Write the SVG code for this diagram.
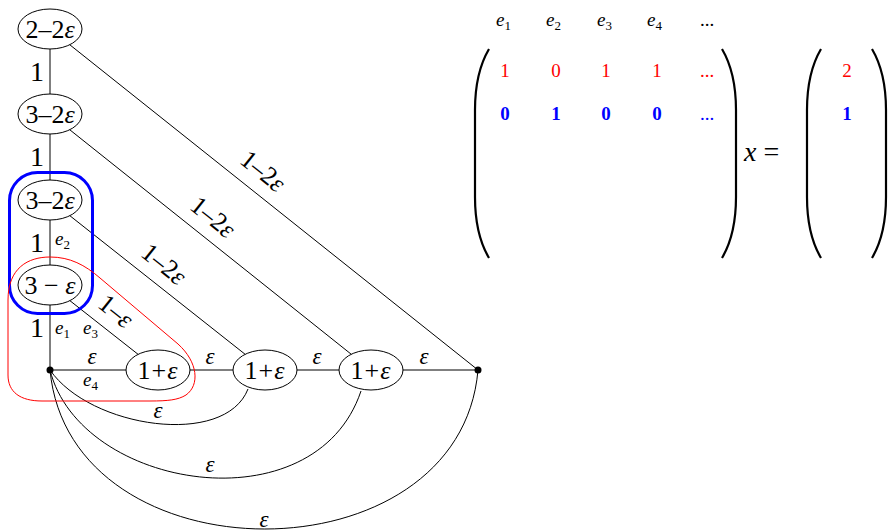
<svg xmlns="http://www.w3.org/2000/svg" width="889" height="531" viewBox="0 0 889 531">
<style>
text{font-family:"Liberation Serif","DejaVu Serif",serif;fill:#000}
.e{stroke:#000;stroke-width:1;fill:none}
.n{fill:#fff;stroke:#000;stroke-width:1}
.nl{font-size:26px;text-anchor:middle;dominant-baseline:central}
.one{font-size:28px;text-anchor:middle}
.eps{font-size:23px;font-style:italic;text-anchor:middle}
.el{font-size:19px;font-style:italic}
.sub{font-size:13px;font-style:normal}
.dl{font-size:26px;text-anchor:middle;dominant-baseline:central}
.i{font-style:italic}
.par{fill:none;stroke:#000;stroke-width:2.2}
.m{font-size:19px;text-anchor:middle}
.red{fill:#ff0000}
.blue{fill:#0000ff;font-weight:bold}
</style>
<g id="connectors">
  <line class="e" x1="50" y1="29" x2="50" y2="370"/>
  <line class="e" x1="50" y1="370" x2="478" y2="370"/>
  <line class="e" x1="50" y1="29" x2="478" y2="370"/>
  <line class="e" x1="50" y1="114" x2="371" y2="370"/>
  <line class="e" x1="50" y1="200" x2="265" y2="370"/>
  <line class="e" x1="50" y1="285" x2="158" y2="370"/>
  <path class="e" d="M50,370 C90,428 225,448 248,389"/>
  <path class="e" d="M50,370 C80,490 315,528 361,391"/>
  <path class="e" d="M50,370 C70,582 460,582 478,370"/>
  <text class="one" x="37" y="81">1</text>
  <text class="one" x="37" y="166">1</text>
  <text class="one" x="37" y="252">1</text>
  <text class="one" x="37" y="337">1</text>
  <text class="el" x="55" y="245">e<tspan class="sub" dy="4">2</tspan></text>
  <text class="el" x="55" y="334">e<tspan class="sub" dy="4">1</tspan></text>
  <text class="el" x="83" y="334">e<tspan class="sub" dy="4">3</tspan></text>
  <text class="el" x="83" y="386">e<tspan class="sub" dy="4">4</tspan></text>
  <text class="eps" x="92" y="364">ε</text>
  <text class="eps" x="210" y="364">ε</text>
  <text class="eps" x="317" y="364">ε</text>
  <text class="eps" x="424" y="364">ε</text>
  <text class="eps" x="158" y="418">ε</text>
  <text class="eps" x="210" y="472">ε</text>
  <text class="eps" x="264" y="527">ε</text>
  <text class="dl" x="263" y="171" transform="rotate(38.6 263 171)">1–2<tspan class="i">ε</tspan></text>
  <text class="dl" x="213" y="217" transform="rotate(38.6 213 217)">1–2<tspan class="i">ε</tspan></text>
  <text class="dl" x="164" y="264" transform="rotate(38.6 164 264)">1–2<tspan class="i">ε</tspan></text>
  <text class="dl" x="116" y="311" transform="rotate(38.6 116 311)">1–<tspan class="i">ε</tspan></text>
</g>
<g id="n1"><ellipse class="n" cx="50" cy="29" rx="32" ry="20"/><text class="nl" x="50" y="29">2–2<tspan class="i">ε</tspan></text></g>
<g id="n2"><ellipse class="n" cx="50" cy="114" rx="32" ry="20"/><text class="nl" x="50" y="114">3–2<tspan class="i">ε</tspan></text></g>
<g id="n3"><ellipse class="n" cx="50" cy="200" rx="32" ry="20"/><text class="nl" x="50" y="200">3–2<tspan class="i">ε</tspan></text></g>
<g id="n4"><ellipse class="n" cx="50" cy="285" rx="32" ry="20"/><text class="nl" x="50" y="285">3 − <tspan class="i">ε</tspan></text></g>
<g id="d1"><circle cx="50" cy="370" r="3.5" fill="#000"/></g>
<g id="n5"><ellipse class="n" cx="158" cy="370" rx="32" ry="20"/><text class="nl" x="158" y="370" letter-spacing="1">1+<tspan class="i">ε</tspan></text></g>
<g id="n6"><ellipse class="n" cx="265" cy="370" rx="32" ry="20"/><text class="nl" x="265" y="370" letter-spacing="1">1+<tspan class="i">ε</tspan></text></g>
<g id="n7"><ellipse class="n" cx="371" cy="370" rx="32" ry="20"/><text class="nl" x="371" y="370" letter-spacing="1">1+<tspan class="i">ε</tspan></text></g>
<g id="d2"><circle cx="478" cy="370" r="3.5" fill="#000"/></g>
<g id="highlights">
  <rect x="9.5" y="172.5" width="83" height="141" rx="28" ry="28" fill="none" stroke="#0000ff" stroke-width="3"/>
  <path d="M8,375 L8,300 C8,268 28,257 50,257 C70,257 85,265 100,278 L178,344 C198,362 200,385 186,395 C178,400 168,401 150,401 L42,401 C20,401 8,392 8,375 Z" fill="none" stroke="#ff0000" stroke-width="1"/>
</g>
<g id="matrix">
  <path class="par" d="M489,49 C479,66 475,88 475,110 L475,197 C475,219 479,241 489,258"/>
  <path class="par" d="M722,49 C732,66 736,88 736,110 L736,197 C736,219 732,241 722,258"/>
  <path class="par" d="M821,49 C811,66 807,88 807,110 L807,197 C807,219 811,241 821,258"/>
  <path class="par" d="M872,49 C882,66 886,88 886,110 L886,197 C886,219 882,241 872,258"/>
  <text class="el" x="496" y="26">e<tspan class="sub" dy="4">1</tspan></text>
  <text class="el" x="546" y="26">e<tspan class="sub" dy="4">2</tspan></text>
  <text class="el" x="597" y="26">e<tspan class="sub" dy="4">3</tspan></text>
  <text class="el" x="647" y="26">e<tspan class="sub" dy="4">4</tspan></text>
  <text class="m" x="707" y="26">...</text>
  <text class="m red" x="505" y="77">1</text>
  <text class="m red" x="556" y="77">0</text>
  <text class="m red" x="606" y="77">1</text>
  <text class="m red" x="657" y="77">1</text>
  <text class="m red" x="707" y="77">...</text>
  <text class="m blue" x="505" y="120">0</text>
  <text class="m blue" x="556" y="120">1</text>
  <text class="m blue" x="606" y="120">0</text>
  <text class="m blue" x="657" y="120">0</text>
  <text class="m" x="707" y="120" style="fill:#0000ff">...</text>
  <text x="744" y="161" font-size="28"><tspan class="i">x</tspan> =</text>
  <text class="m red" x="847" y="77">2</text>
  <text class="m blue" x="847" y="120">1</text>
</g>
</svg>
